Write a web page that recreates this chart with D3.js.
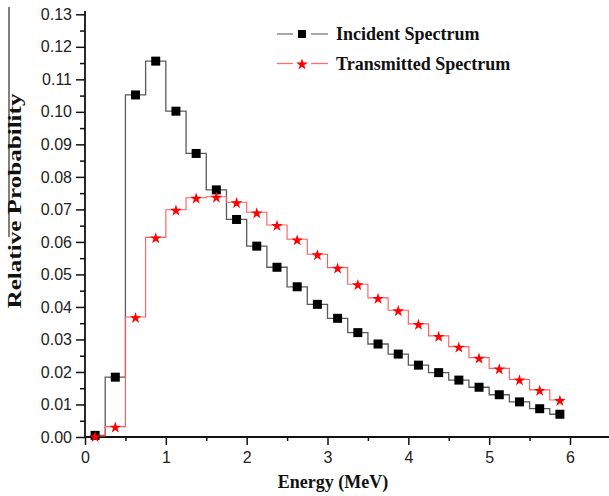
<!DOCTYPE html>
<html>
<head>
<meta charset="utf-8">
<script src="https://cdn.jsdelivr.net/npm/d3@7"></script>
<style>
    body { margin: 0; background: #fff; }
    svg { display: block; }
</style>
</head>
<body>
<div id="chart"></div>
<script>
// bin centres (MeV), 0.25 MeV bins
const energy = [0.125, 0.375, 0.625, 0.875, 1.125, 1.375, 1.625, 1.875, 2.125, 2.375, 2.625, 2.875,
                3.125, 3.375, 3.625, 3.875, 4.125, 4.375, 4.625, 4.875, 5.125, 5.375, 5.625, 5.875];
const incident = [0.0005, 0.0184, 0.1052, 0.1156, 0.1002, 0.0872, 0.0760, 0.0669, 0.0587, 0.0522, 0.0462, 0.0408,
                  0.0365, 0.0321, 0.0286, 0.0255, 0.0221, 0.0198, 0.0175, 0.0153, 0.0130, 0.0108, 0.0087, 0.0070];
const transmitted = [0.0003, 0.0032, 0.0369, 0.0614, 0.0699, 0.0736, 0.0739, 0.0722, 0.0691, 0.0652, 0.0608, 0.0562,
                     0.0521, 0.0470, 0.0428, 0.0390, 0.0348, 0.0311, 0.0278, 0.0244, 0.0211, 0.0177, 0.0145, 0.0114];
const seriesNames = ["Incident Spectrum", "Transmitted Spectrum"];
const xTicks = [0, 1, 2, 3, 4, 5, 6];
const yTicks = [0, 0.01, 0.02, 0.03, 0.04, 0.05, 0.06, 0.07, 0.08, 0.09, 0.10, 0.11, 0.12, 0.13];

(function() {
    const width = 609;
    const height = 496;
    const axisColor = "#111";

    const x = d3.scaleLinear().domain([0, 6]).range([85, 570]);
    const y = d3.scaleLinear().domain([0, 0.13]).range([437, 14.3]);

    const svg = d3.select("#chart")
        .append("svg")
        .attr("width", width)
        .attr("height", height);

    // stray frame edge at the far left of the scan
    svg.append("line")
        .attr("x1", 9).attr("x2", 9)
        .attr("y1", 7).attr("y2", 237)
        .attr("stroke", "#000")
        .attr("stroke-width", 1);

    // minor ticks
    svg.append("g")
        .attr("transform", `translate(0,${y(0)})`)
        .call(d3.axisBottom(x).tickValues(d3.range(0.5, 6.6, 1)).tickSize(4).tickFormat(""))
        .call(g => g.select(".domain").remove());
    svg.append("g")
        .attr("transform", `translate(${x(0)},0)`)
        .call(d3.axisLeft(y).tickValues(d3.range(0.005, 0.13, 0.01)).tickSize(5).tickFormat(""))
        .call(g => g.select(".domain").remove());

    // major ticks + labels
    const xAxis = svg.append("g")
        .attr("transform", `translate(0,${y(0)})`)
        .call(d3.axisBottom(x).tickValues(xTicks).tickSize(8).tickPadding(7).tickFormat(d3.format("d")));
    xAxis.select(".domain").remove();

    const yAxis = svg.append("g")
        .attr("transform", `translate(${x(0)},0)`)
        .call(d3.axisLeft(y).tickValues(yTicks).tickSize(9).tickPadding(4).tickFormat(d3.format(".2f")));
    yAxis.select(".domain").remove();

    svg.selectAll(".tick line")
        .attr("stroke", axisColor)
        .attr("stroke-width", 1.5);
    svg.selectAll(".tick text")
        .attr("fill", "#222")
        .style("font-family", "'Liberation Sans', Arial, sans-serif")
        .style("font-size", "16px");

    // axis lines
    svg.append("line")
        .attr("x1", x(0)).attr("x2", width)
        .attr("y1", y(0)).attr("y2", y(0))
        .attr("stroke", axisColor).attr("stroke-width", 1.8);
    svg.append("line")
        .attr("x1", x(0)).attr("x2", x(0))
        .attr("y1", y(0)).attr("y2", 11)
        .attr("stroke", axisColor).attr("stroke-width", 1.8);

    // step lines (Origin "step center")
    const line = d3.line()
        .x((d, i) => x(energy[i]))
        .y(d => y(d))
        .curve(d3.curveStep);

    svg.append("path")
        .datum(incident)
        .attr("d", line)
        .attr("fill", "none")
        .attr("stroke", "#5a5a5a")
        .attr("stroke-width", 1.3);

    svg.append("path")
        .datum(transmitted)
        .attr("d", line)
        .attr("fill", "none")
        .attr("stroke", "#ff5c5c")
        .attr("stroke-width", 1.1);

    const sq = 9;
    svg.selectAll(".sq")
        .data(incident)
        .enter().append("rect")
        .attr("class", "sq")
        .attr("x", (d, i) => x(energy[i]) - sq / 2)
        .attr("y", d => y(d) - sq / 2)
        .attr("width", sq)
        .attr("height", sq)
        .attr("fill", "#000");

    const star = d3.symbol().type(d3.symbolStar).size(42);
    svg.selectAll(".star")
        .data(transmitted)
        .enter().append("path")
        .attr("class", "star")
        .attr("d", star)
        .attr("transform", (d, i) => `translate(${x(energy[i])},${y(d) + 1})`)
        .attr("fill", "#ff0000");

    // legend
    const legendData = [
        { label: seriesNames[0], line: "#777", marker: "square" },
        { label: seriesNames[1], line: "#ff7070", marker: "star" }
    ];

    legend = svg.selectAll(".legend-item")
        .data(legendData)
        .enter().append("g")
        .attr("class", "legend-item")
        .attr("transform", (d, i) => `translate(0, ${34 + i * 29.5})`)
        .each(function(d) {
            const g = d3.select(this);
            g.append("line").attr("x1", 277).attr("x2", 293).attr("y1", 0).attr("y2", 0)
                .attr("stroke", d.line).attr("stroke-width", 1.3);
            g.append("line").attr("x1", 311).attr("x2", 328).attr("y1", 0).attr("y2", 0)
                .attr("stroke", d.line).attr("stroke-width", 1.3);
            if (d.marker === "square") {
                g.append("rect").attr("x", 298).attr("y", -4).attr("width", 8).attr("height", 8).attr("fill", "#000");
            } else {
                g.append("path").attr("d", star).attr("transform", "translate(302,1)").attr("fill", "#ff0000");
            }
            g.append("text")
                .attr("x", 336)
                .attr("y", 6)
                .style("font-family", "'Liberation Serif', 'Times New Roman', serif")
                .style("font-weight", "bold")
                .style("font-size", "18px")
                .attr("fill", "#111")
                .text(d.label);
        });

    // axis titles
    svg.append("text")
        .attr("x", 333)
        .attr("y", 488)
        .attr("text-anchor", "middle")
        .style("font-family", "'Liberation Serif', 'Times New Roman', serif")
        .style("font-weight", "bold")
        .style("font-size", "18px")
        .attr("fill", "#111")
        .text("Energy (MeV)");

    svg.append("text")
        .attr("transform", "translate(21,201) rotate(-90)")
        .attr("text-anchor", "middle")
        .attr("textLength", 215)
        .attr("lengthAdjust", "spacingAndGlyphs")
        .style("font-family", "'Liberation Serif', 'Times New Roman', serif")
        .style("font-weight", "bold")
        .style("font-size", "19px")
        .attr("fill", "#111")
        .text("Relative Probability");
})();
</script>
</body>
</html>
